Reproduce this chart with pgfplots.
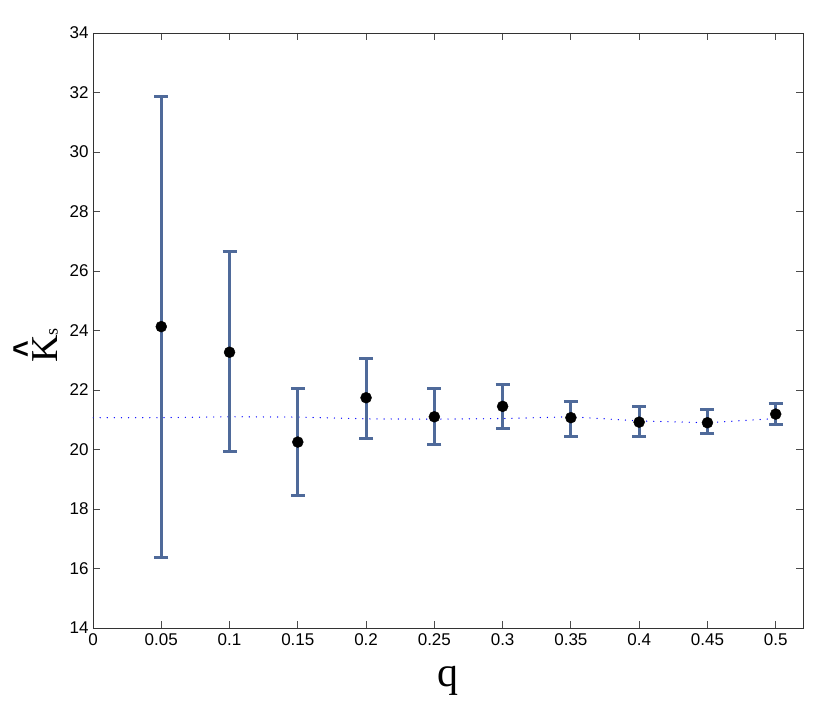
\documentclass[border=0pt]{standalone}
\usepackage{pgfplots}
\pgfplotsset{compat=1.18}
\usepackage{graphicx}
\usepackage{fontspec}
\setmainfont{Liberation Sans}
\newfontfamily\serif{Liberation Serif}
\newfontfamily\arialfont{Liberation Sans}
\definecolor{barblue}{HTML}{4F6A9A}
\pgfplotstableread{
x y ep em
0.05 24.13 7.73 7.77
0.10 23.27 3.37 3.35
0.15 20.25 1.79 1.79
0.20 21.74 1.32 1.36
0.25 21.10 0.94 0.94
0.30 21.45 0.73 0.73
0.35 21.07 0.56 0.62
0.40 20.92 0.51 0.47
0.45 20.90 0.43 0.37
0.50 21.19 0.36 0.35
}\datatable
\pgfplotstableread{
x y
0.00 21.07
0.05 21.07
0.10 21.10
0.15 21.09
0.20 21.03
0.25 21.02
0.30 21.04
0.35 21.10
0.40 20.96
0.45 20.90
0.50 21.04
}\fittable
\begin{document}
\begin{tikzpicture}
\begin{axis}[
  scale only axis,
  width=710pt, height=595pt,
  xmin=0, xmax=0.52, ymin=14, ymax=34,
  xtick={0,0.05,...,0.5},
  ytick={14,16,...,34},
  xticklabels={0,0.05,0.1,0.15,0.2,0.25,0.3,0.35,0.4,0.45,0.5},
  tick align=inside,
  major tick length=7pt,
  axis line style={black!80, line width=0.8pt},
  tick style={black!70, line width=0.8pt},
  /pgf/number format/assume math mode=true,
  ticklabel style={font=\fontsize{17}{20}\selectfont},
  xticklabel style={yshift=-2pt},
  yticklabel style={xshift=-1pt},
  xlabel={\fontsize{42}{48}\selectfont\serif q},
  ylabel={\serif\fontsize{38}{46}\selectfont\rlap{\makebox[27.4pt][c]{\raisebox{21pt}[0pt][0pt]{\fontsize{30}{36}\selectfont\scalebox{0.95}[1.1]{\arialfont\bfseries\textasciicircum}}}}K{\fontsize{18}{22}\selectfont s}},
  xlabel style={yshift=-14pt},
  ylabel style={yshift=5pt, xshift=-15pt},
]
\addplot[blue, line width=1.3pt, line cap=round, dash pattern=on 0.1pt off 7pt] table[x=x,y=y] {\fittable};
\addplot[only marks, mark=*, mark size=5.5pt, black,
  error bars/.cd, y dir=both, y explicit,
  error bar style={line width=3pt, barblue},
  error mark options={rotate=90, mark size=7pt, line width=3pt, barblue}]
  table[x=x, y=y, y error plus=ep, y error minus=em] {\datatable};
\end{axis}
\path ([shift={(-93pt,-79pt)}]current axis.south west) rectangle ([shift={(27pt,33pt)}]current axis.north east);
\end{tikzpicture}
\end{document}
